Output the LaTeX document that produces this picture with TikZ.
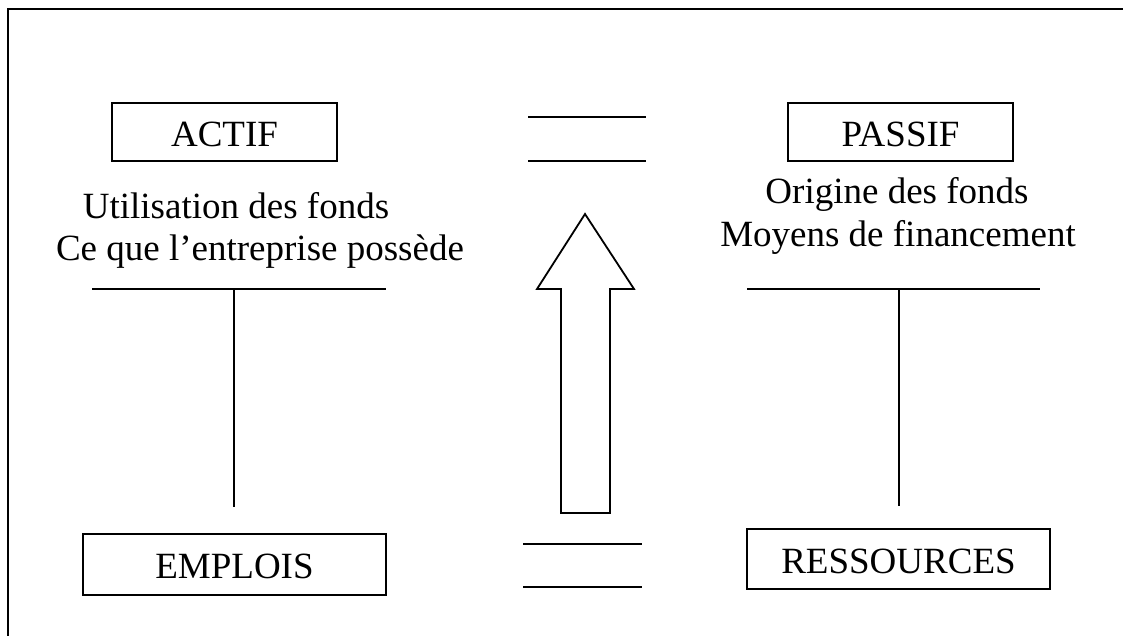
\documentclass[tikz,border=0pt]{standalone}
\usepackage{fontspec}
\setmainfont{Liberation Serif}
\begin{document}
\begin{tikzpicture}[x=1pt,y=-1pt,line width=1.8pt,
  box/.style={draw,line width=1.8pt,inner sep=0pt,text height=28pt,text depth=0pt,font=\fontsize{37}{44}\selectfont},
  lbl/.style={inner sep=0pt,anchor=base,font=\fontsize{37}{44}\selectfont},
  rule/.style={line width=1.8pt}]
\useasboundingbox (0,0) rectangle (1123,635);
% frame (cropped on the right and bottom)
\draw[line width=2.4pt] (8,640) -- (8,9) -- (1130,9);
% boxes
\node[box,minimum width=225pt,minimum height=58pt] (actif) at (224.5,132) {ACTIF};
\node[box,minimum width=225pt,minimum height=58pt] (passif) at (900.5,132) {PASSIF};
\node[box,minimum width=303pt,minimum height=61pt] (emplois) at (234.5,564.5) {EMPLOIS};
\node[box,minimum width=303pt,minimum height=60pt] (ressources) at (898.5,559) {RESSOURCES};
% texts
\node[lbl] (util) at (236,218) {Utilisation des fonds};
\node[lbl] (poss) at (260,260) {Ce que l’entreprise possède};
\node[lbl] (orig) at (897,203) {Origine des fonds};
\node[lbl] (moy) at (898,246) {Moyens de financement};
% T accounts
\coordinate (lTl) at (92,289); \coordinate (lTr) at (386,289);
\coordinate (lTt) at (234,289); \coordinate (lTb) at (234,507);
\draw[rule] (lTl) -- (lTr);
\draw[rule] (lTt) -- (lTb);
\coordinate (rTl) at (747,289); \coordinate (rTr) at (1040,289);
\coordinate (rTt) at (899,289); \coordinate (rTb) at (899,506);
\draw[rule] (rTl) -- (rTr);
\draw[rule] (rTt) -- (rTb);
% equal signs
\coordinate (e1a) at (528,117); \coordinate (e1b) at (646,117);
\coordinate (e2a) at (528,161); \coordinate (e2b) at (646,161);
\draw[rule] (e1a) -- (e1b);
\draw[rule] (e2a) -- (e2b);
\coordinate (e3a) at (523,544); \coordinate (e3b) at (642,544);
\coordinate (e4a) at (523,587); \coordinate (e4b) at (642,587);
\draw[rule] (e3a) -- (e3b);
\draw[rule] (e4a) -- (e4b);
% block arrow
\draw[rule,line join=miter] (585,214) -- (634,289) -- (610,289) -- (610,513) -- (561,513) -- (561,289) -- (537,289) -- cycle;
\end{tikzpicture}
\end{document}
